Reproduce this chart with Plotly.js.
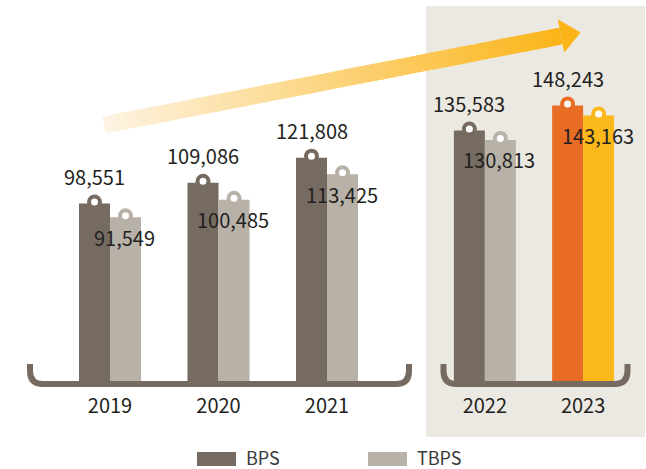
<!DOCTYPE html>
<html><head><meta charset="utf-8">
<script src="https://cdn.plot.ly/plotly-3.0.1.min.js"></script>
<style>html,body{margin:0;padding:0;background:#fff}#chart{width:646px;height:469px}</style>
</head><body><div id="chart"></div>
<script>
// ---- data ----
const years = ['2019', '2020', '2021', '2022', '2023'];
const bps = [98551, 109086, 121808, 135583, 148243];
const tbps = [91549, 100485, 113425, 130813, 143163];
const seriesNames = ['BPS', 'TBPS'];
const splitAt = 3; // years before this index: left group; rest: highlighted panel

// ---- styles ----
const bpsColors = ['#766b61', '#766b61', '#766b61', '#766b61', '#e96c25'];
const tbpsColors = ['#b8b1a7', '#b8b1a7', '#b8b1a7', '#b8b1a7', '#fbb81b'];
const FONT = '"Noto Sans CJK KR", "Noto Sans", sans-serif';
const TXT = '#231f20';

const W = 646, H = 469;
const PLOT_BOTTOM = 382, PLOT_TOP = 0;
const plotH = PLOT_BOTTOM - PLOT_TOP;
const px2x = p => p / W;
const py2y = p => (PLOT_BOTTOM - p) / plotH;

const BAR_PX = 31;
const leftPx = [55.75, 381.25], rightPx = [435.75, 632.25];
const nL = splitAt, nR = years.length - splitAt;
const wL = BAR_PX / ((leftPx[1] - leftPx[0]) / nL);
const wR = BAR_PX / ((rightPx[1] - rightPx[0]) / nR);

// y scale: value 0 sits ~398px, ~506.8 units per px
const ZERO_PX = 398, UPX = 506.8;
const yRange = [(ZERO_PX - PLOT_BOTTOM) * UPX, (ZERO_PX - PLOT_TOP) * UPX];

const groups = [
  {idx: [...Array(nL).keys()], xa: 'x', ya: 'y', w: wL},
  {idx: [...Array(nR).keys()].map(i => i + splitAt), xa: 'x2', ya: 'y2', w: wR}
];

const traces = [];
const annotations = [];
const shapes = [];

// background panel for highlighted years
shapes.push({type: 'rect', xref: 'paper', yref: 'paper', layer: 'below',
  x0: px2x(426), x1: px2x(645), y0: py2y(437), y1: py2y(6),
  fillcolor: '#ece9e3', line: {width: 0}});

const fmt = v => v.toLocaleString('en-US');

groups.forEach(g => {
  const xs = g.idx.map(i => years[i]);
  traces.push({type: 'bar', name: seriesNames[0], x: xs, y: g.idx.map(i => bps[i]),
    xaxis: g.xa, yaxis: g.ya, width: g.w, offset: -g.w,
    marker: {color: g.idx.map(i => bpsColors[i]), line: {width: 0}},
    hoverinfo: 'skip', showlegend: false});
  traces.push({type: 'bar', name: seriesNames[1], x: xs, y: g.idx.map(i => tbps[i]),
    xaxis: g.xa, yaxis: g.ya, width: g.w, offset: 0,
    marker: {color: g.idx.map(i => tbpsColors[i]), line: {width: 0}},
    hoverinfo: 'skip', showlegend: false});
  g.idx.forEach((i, j) => {
    // j = category index on this subplot's category axis
    [[bps, bpsColors, -BAR_PX / 2], [tbps, tbpsColors, BAR_PX / 2]].forEach(([arr, cols, dx]) => {
      shapes.push({type: 'circle', xref: g.xa, yref: g.ya, xsizemode: 'pixel', ysizemode: 'pixel',
        xanchor: j, yanchor: arr[i], x0: dx - 7.5, x1: dx + 7.5, y0: 1.5 - 7.5, y1: 1.5 + 7.5,
        fillcolor: cols[i], line: {width: 0}});
      shapes.push({type: 'circle', xref: g.xa, yref: g.ya, xsizemode: 'pixel', ysizemode: 'pixel',
        xanchor: j, yanchor: arr[i], x0: dx - 3.5, x1: dx + 3.5, y0: 1.5 - 3.5, y1: 1.5 + 3.5,
        fillcolor: '#ffffff', line: {width: 0}});
    });
    annotations.push({xref: g.xa, yref: g.ya, x: j, y: bps[i], xshift: -BAR_PX / 2, yshift: 27,
      text: fmt(bps[i]), showarrow: false, yanchor: 'middle', xanchor: 'center',
      font: {family: FONT, size: 20, color: TXT}});
    annotations.push({xref: g.xa, yref: g.ya, x: j, y: tbps[i], xshift: BAR_PX / 2 - 1, yshift: -20,
      text: fmt(tbps[i]), showarrow: false, yanchor: 'middle', xanchor: 'center',
      font: {family: FONT, size: 20, color: TXT}});
  });
});

// base brackets
function bracket(xl, xr, yTop, yBase, r, color) {
  const p = (x, y) => px2x(x).toFixed(5) + ',' + py2y(y).toFixed(5);
  return {type: 'path', xref: 'paper', yref: 'paper',
    path: 'M' + p(xl, yTop) + ' L' + p(xl, yBase - r) + ' Q' + p(xl, yBase) + ' ' + p(xl + r, yBase) +
      ' L' + p(xr - r, yBase) + ' Q' + p(xr, yBase) + ' ' + p(xr, yBase - r) + ' L' + p(xr, yTop),
    line: {color: color, width: 6}};
}
shapes.push(bracket(30, 409, 364, 384, 13, '#766b61'));
shapes.push(bracket(443.5, 627.5, 364, 384, 13, '#766b61'));

// gradient arrow (decoration)
(function () {
  const A = [104, 125], B = [561, 36], h = 8.5;
  const d = [B[0] - A[0], B[1] - A[1]];
  const L = Math.hypot(d[0], d[1]);
  const n = [-d[1] / L * h, d[0] / L * h];
  const c0 = [253, 243, 227], c1 = [251, 181, 24];
  const N = 70;
  const p = (x, y) => px2x(x).toFixed(5) + ',' + py2y(y).toFixed(5);
  for (let k = 0; k < N; k++) {
    const t0 = k / N, t1 = Math.min(1, (k + 1.6) / N);
    const tm = (k + 0.5) / N;
    const col = 'rgb(' + c0.map((c, j) => Math.round(c + (c1[j] - c) * tm)).join(',') + ')';
    const P = t => [A[0] + d[0] * t, A[1] + d[1] * t];
    const a = P(t0), b = P(t1);
    shapes.push({type: 'path', xref: 'paper', yref: 'paper',
      path: 'M' + p(a[0] + n[0], a[1] + n[1]) + ' L' + p(b[0] + n[0], b[1] + n[1]) +
        ' L' + p(b[0] - n[0], b[1] - n[1]) + ' L' + p(a[0] - n[0], a[1] - n[1]) + ' Z',
      fillcolor: col, line: {width: 0}});
  }
  shapes.push({type: 'path', xref: 'paper', yref: 'paper',
    path: 'M' + p(557.8, 19.3) + ' L' + p(580.6, 32.6) + ' L' + p(564.2, 52.7) + ' Z',
    fillcolor: 'rgb(251,181,24)', line: {width: 0}});
})();

// legend (swatches + labels)
[[197, bpsColors[0]], [368, tbpsColors[0]]].forEach(([x, col], k) => {
  shapes.push({type: 'rect', xref: 'paper', yref: 'paper', x0: px2x(x), x1: px2x(x + 39),
    y0: py2y(466), y1: py2y(452), fillcolor: col, line: {width: 0}});
  annotations.push({xref: 'paper', yref: 'paper', x: px2x(x + 47), y: py2y(456.5),
    xanchor: 'left', yanchor: 'middle', showarrow: false, text: seriesNames[k],
    font: {family: FONT, size: 18, color: '#3a3a3a'}});
});

const xaxisBase = {type: 'category', showgrid: false, zeroline: false, showline: false,
  ticks: '', ticklabelstandoff: 10, tickfont: {family: FONT, size: 20, color: TXT}, fixedrange: true};
const yaxisBase = {range: yRange, visible: false, showgrid: false, zeroline: false, fixedrange: true};

const layout = {
  width: W, height: H,
  margin: {l: 0, r: 0, t: PLOT_TOP, b: H - PLOT_BOTTOM, pad: 0},
  paper_bgcolor: '#ffffff', plot_bgcolor: 'rgba(0,0,0,0)',
  barmode: 'overlay', showlegend: false,
  xaxis: Object.assign({}, xaxisBase, {domain: [px2x(leftPx[0]), px2x(leftPx[1])], range: [-0.5, nL - 0.5], anchor: 'y'}),
  yaxis: Object.assign({}, yaxisBase, {anchor: 'x'}),
  xaxis2: Object.assign({}, xaxisBase, {domain: [px2x(rightPx[0]), px2x(rightPx[1])], range: [-0.5, nR - 0.5], anchor: 'y2'}),
  yaxis2: Object.assign({}, yaxisBase, {anchor: 'x2'}),
  shapes: shapes, annotations: annotations
};

Plotly.newPlot('chart', traces, layout, {displayModeBar: false, staticPlot: true});
</script>
</body></html>
